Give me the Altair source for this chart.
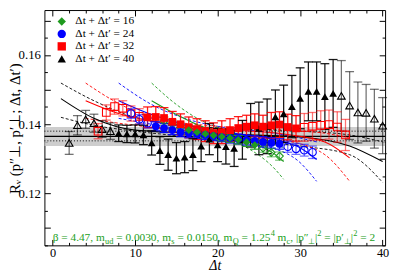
import altair as alt
import pandas as pd

SERIF = "Liberation Serif"
SERIES = ["16", "24", "32", "40"]
COLORS = ["#1f9a1f", "#0000ff", "#ff0000", "#000000"]
SHAPES = ["diamond", "circle", "square", "triangle-up"]
GREEN_TXT = "#22a022"

X_DOMAIN = [-1.0, 40.3]
Y_DOMAIN = [0.105, 0.173]

# ---------------- data points ----------------
# dt + dt' = 40
blk_x = [2, 3, 4, 5, 6, 7, 8, 9, 10, 11, 12, 13, 14, 15, 16, 17, 18, 19, 20, 21,
         22, 23, 24, 25, 26, 27, 28, 29, 30, 31, 32, 33, 34, 35, 36, 37, 38, 39, 40]
blk_y = [0.1346, 0.1397, 0.1414, 0.1403, 0.1386, 0.1380,
         0.1374, 0.1372, 0.1372, 0.1369, 0.1346, 0.1324, 0.1312, 0.1302, 0.1305, 0.1312,
         0.1337, 0.1357, 0.1340, 0.1335, 0.1330, 0.1355, 0.1397, 0.1388, 0.1394, 0.1421,
         0.1430, 0.1451, 0.1475, 0.1495, 0.1495, 0.1480, 0.1489,
         0.1482, 0.1454, 0.1434, 0.1433, 0.1416, 0.1396]
blk_e = [0.0033, 0.0028, 0.0026, 0.0026, 0.0024, 0.0024,
         0.0024, 0.0025, 0.0026, 0.0028, 0.0035, 0.0040, 0.0045, 0.0045, 0.0045, 0.0046,
         0.0045, 0.0045, 0.0048, 0.0050, 0.0052, 0.0056, 0.0063, 0.0076, 0.0079, 0.0078,
         0.0083, 0.0090, 0.0088, 0.0085, 0.0085, 0.0095, 0.0098,
         0.0102, 0.0098, 0.0088, 0.0082, 0.0085, 0.0081]
blk_open = [1] * 6 + [0] * 27 + [1] * 6

# dt + dt' = 32
red_x = [5.5, 6.5, 7.5, 8.5, 9.5, 10.5, 11.5, 12.5, 13.5, 14.5, 15.5, 16.5, 17.5,
         18.5, 19.5, 20.5, 21.5, 22.5, 23.5, 24.5, 25.5, 26.5, 27.5, 28.5, 29.5,
         30.5, 31.5, 32.5, 33.5, 34.5, 35.5]
red_y = [0.1380, 0.1434, 0.1451, 0.1446, 0.1431, 0.1423,
         0.1420, 0.1421, 0.1418, 0.1407, 0.1400, 0.1391, 0.1386, 0.1380, 0.1374,
         0.1377, 0.1383, 0.1389, 0.1393, 0.1397, 0.1393, 0.1397, 0.1399, 0.1392, 0.1388,
         0.1391, 0.1394, 0.1397, 0.1399, 0.1392, 0.1369]
red_e = [0.0022, 0.0022, 0.0022, 0.0022, 0.0022, 0.0022,
         0.0030, 0.0030, 0.0030, 0.0030, 0.0030, 0.0030, 0.0030, 0.0030, 0.0030,
         0.0033, 0.0033, 0.0033, 0.0033, 0.0033, 0.0033, 0.0037, 0.0037, 0.0037, 0.0037,
         0.0040, 0.0040, 0.0042, 0.0042, 0.0044, 0.0045]
red_open = [1] * 6 + [0] * 19 + [1] * 6

# dt + dt' = 24
blu_x = [9.5, 10.5, 11.5, 12.5, 13.5, 14.5, 15.5, 16.5, 17.5, 18.5, 19.5, 20.5,
         21.5, 22.5, 23.5, 24.5, 25.5, 26.5, 27.5, 28.5, 29.5, 30.5, 31.5]
blu_y = [0.1431, 0.1414, 0.1403,
         0.1394, 0.1389, 0.1383, 0.1377, 0.1374, 0.1372, 0.1369, 0.1366, 0.1363,
         0.1360, 0.1357, 0.1354, 0.1352, 0.1349, 0.1346, 0.1343,
         0.1335, 0.1329, 0.1325, 0.1319]
blu_e = [0.0014, 0.0014, 0.0014,
         0.0013, 0.0013, 0.0013, 0.0013, 0.0013, 0.0013, 0.0013, 0.0013, 0.0013,
         0.0014, 0.0014, 0.0014, 0.0014, 0.0015, 0.0015, 0.0015,
         0.0016, 0.0016, 0.0017, 0.0018]
blu_open = [1] * 3 + [0] * 16 + [1] * 4

# dt + dt' = 16
grn_x = [13.5, 14.5, 15.5, 16.5, 17.5, 18.5, 19.5, 20.5, 21.5, 22.5, 23.5, 24.5,
         25.5, 26.5, 27.5]
grn_y = [0.1409, 0.1400, 0.1391,
         0.1383, 0.1377, 0.1372, 0.1368, 0.1364, 0.1360, 0.1355, 0.1348, 0.1340,
         0.1331, 0.1318, 0.1308]
grn_e = [0.0012] * 15
grn_open = [1] * 3 + [0] * 9 + [1] * 3

# ---------------- fit curves (read at a few x) ----------------
blk_cx = [1, 5, 10, 20, 30, 36, 40]
blk_up = [0.1519, 0.1468, 0.1420, 0.1389, 0.1380, 0.1369, 0.1349]
blk_mid = [0.1474, 0.1417, 0.1383, 0.1372, 0.1363, 0.1337, 0.1292]
blk_lo = [0.1420, 0.1397, 0.1380, 0.1357, 0.1337, 0.1312, 0.1232]

red_cx = [4, 8, 12, 20, 28, 33, 36]
red_up = [0.1519, 0.1460, 0.1420, 0.1394, 0.1383, 0.1374, 0.1360]
red_mid = [0.1468, 0.1431, 0.1409, 0.1386, 0.1372, 0.1349, 0.1303]
red_lo = [0.1417, 0.1403, 0.1391, 0.1374, 0.1354, 0.1312, 0.1235]

blu_cx = [8, 12, 16, 20, 26, 30, 32]
blu_up = [0.1519, 0.1457, 0.1417, 0.1394, 0.1377, 0.1360, 0.1349]
blu_mid = [0.1468, 0.1428, 0.1400, 0.1380, 0.1360, 0.1332, 0.1298]
blu_lo = [0.1417, 0.1400, 0.1383, 0.1366, 0.1337, 0.1289, 0.1235]

grn_cx = [12, 15, 18, 21, 24, 27, 28]
grn_up = [0.1519, 0.1457, 0.1411, 0.1383, 0.1360, 0.1340, 0.1332]
grn_mid = [0.1468, 0.1428, 0.1394, 0.1372, 0.1349, 0.1312, 0.1292]
grn_lo = [0.1417, 0.1400, 0.1380, 0.1357, 0.1326, 0.1269, 0.1241]

# plateau band
band_lo, band_hi = 0.1337, 0.1392
band_mid = 0.1365
band_dots = [0.1380, 0.1352]

X_MAJOR = [0, 10, 20, 30, 40]
X_MINOR = [2, 4, 6, 8, 12, 14, 16, 18, 22, 24, 26, 28, 32, 34, 36, 38]
Y_LABELS = [0.12, 0.14, 0.16]
Y_MAJOR = [0.11, 0.12, 0.13, 0.14, 0.15, 0.16, 0.17]
Y_MINOR = [0.105, 0.115, 0.125, 0.135, 0.145, 0.155, 0.165]

# legend layout (in data units of the plot)
leg_series = ["16", "24", "32", "40"]
leg_y = [0.1697, 0.1661, 0.1625, 0.1589]
leg_sym_x = 1.1
leg_txt_x = 2.75

# annotation pieces: (x, text, kind)
NOTE_Y = 0.1062
note_x = [0.0, 6.34, 7.70, 14.39, 15.13, 21.82, 22.89, 26.44, 27.25, 28.35, 28.80,
          31.01, 31.79, 32.08, 32.92, 35.37, 36.14, 36.44, 37.28]
note_t = ["\u03b2 = 4.47, m", "ud", "= 0.0030, m", "s", "= 0.0150, m", "Q",
          "= 1.25", "4", "m", "c", ", |p\u2033", "\u22a5", "|", "2", "= |p\u2032",
          "\u22a5", "|", "2", "= 2"]
note_k = ["main", "sub", "main", "sub", "main", "sub", "main", "sup", "main", "sub",
          "main", "sub", "main", "sup", "main", "sub", "main", "sup", "main"]

# ---------------- tables ----------------
rows = []
for s, xs, ys, es, os_ in [("40", blk_x, blk_y, blk_e, blk_open),
                           ("32", red_x, red_y, red_e, red_open),
                           ("24", blu_x, blu_y, blu_e, blu_open),
                           ("16", grn_x, grn_y, grn_e, grn_open)]:
    for x, y, e, o in zip(xs, ys, es, os_):
        rows.append({"series": s, "x": x, "y": y, "lo": y - e, "hi": y + e, "open": o})
pts = pd.DataFrame(rows)

crow = []
for s, cx, up, mid, lo in [("40", blk_cx, blk_up, blk_mid, blk_lo),
                           ("32", red_cx, red_up, red_mid, red_lo),
                           ("24", blu_cx, blu_up, blu_mid, blu_lo),
                           ("16", grn_cx, grn_up, grn_mid, grn_lo)]:
    for kind, arr in [("fit", mid), ("up", up), ("lo", lo)]:
        for x, y in zip(cx, arr):
            crow.append({"series": s, "kind": kind, "key": s + kind, "x": x, "y": y})
curves = pd.DataFrame(crow)

notes = pd.DataFrame({"x": note_x, "t": note_t, "kind": note_k, "y": NOTE_Y})

legend_df = pd.DataFrame({
    "series": leg_series, "y": leg_y,
    "xs": leg_sym_x, "xt": leg_txt_x,
    "label": ["\u0394t + \u0394t\u2032 = " + s for s in leg_series],
})

XS = alt.Scale(domain=X_DOMAIN, nice=False, zero=False)
YS = alt.Scale(domain=Y_DOMAIN, nice=False, zero=False)
CS = alt.Scale(domain=SERIES, range=COLORS)
SS = alt.Scale(domain=SERIES, range=SHAPES)


def X(field="x"):
    return alt.X(f"{field}:Q", scale=XS, axis=None)


def Y(field="y"):
    return alt.Y(f"{field}:Q", scale=YS, axis=None)


def C():
    return alt.Color("series:N", scale=CS, legend=None)


def S():
    return alt.Shape("series:N", scale=SS, legend=None)


band = alt.Chart(pd.DataFrame({"x": [X_DOMAIN[0]], "x2": [X_DOMAIN[1]],
                               "y": [band_lo], "y2": [band_hi]})).mark_rect(
    color="#c4c4c4", opacity=0.85).encode(x=X("x"), x2="x2", y=Y("y"), y2="y2")

hmid = alt.Chart(pd.DataFrame({"y": [band_mid]})).mark_rule(
    color="black", strokeWidth=1.3).encode(y=Y("y"))
hdots = alt.Chart(pd.DataFrame({"y": band_dots})).mark_rule(
    color="black", strokeWidth=1, strokeDash=[1, 2]).encode(y=Y("y"))

curve_fit = alt.Chart(curves).transform_filter("datum.kind == 'fit'").mark_line(
    interpolate="monotone", clip=True, strokeWidth=1.1).encode(
    x=X(), y=Y(), color=C(), detail="key:N")
curve_dash = alt.Chart(curves).transform_filter("datum.kind != 'fit'").mark_line(
    interpolate="monotone", clip=True, strokeWidth=0.9, strokeDash=[3, 2]).encode(
    x=X(), y=Y(), color=C(), detail="key:N")

OP = alt.Opacity("open:N", scale=alt.Scale(domain=[0, 1], range=[0.9, 0.55]), legend=None)
err_rule = alt.Chart(pts).mark_rule(strokeWidth=1.3).encode(
    x=X(), y=Y("lo"), y2="hi", color=C(), opacity=OP)
err_lo = alt.Chart(pts).mark_tick(orient="horizontal", size=9, thickness=1.3).encode(
    x=X(), y=Y("lo"), color=C(), opacity=OP)
err_hi = alt.Chart(pts).mark_tick(orient="horizontal", size=9, thickness=1.3).encode(
    x=X(), y=Y("hi"), color=C(), opacity=OP)

open_pts = alt.Chart(pts).transform_filter("datum.open == 1").mark_point(
    filled=False, strokeWidth=1.1, opacity=1, size=60).encode(
    x=X(), y=Y(), color=C(), shape=S())

filled_pts = alt.Chart(pts).transform_filter("datum.open == 0").mark_point(
    filled=True, opacity=1, size=62).encode(
    x=X(), y=Y(), color=C(), shape=S())

leg_sym = alt.Chart(legend_df).mark_point(filled=True, opacity=1, size=72).encode(
    x=X("xs"), y=Y(), color=C(), shape=S())
leg_txt = alt.Chart(legend_df).mark_text(
    align="left", baseline="middle", font=SERIF, fontSize=11.5, color="black").encode(
    x=X("xt"), y=Y(), text="label:N")

note_main = alt.Chart(notes).transform_filter("datum.kind == 'main'").mark_text(
    align="left", baseline="alphabetic", font=SERIF, fontSize=11.5,
    color=GREEN_TXT).encode(x=X(), y=Y(), text="t:N")
note_sub = alt.Chart(notes).transform_filter("datum.kind == 'sub'").mark_text(
    align="left", baseline="alphabetic", font=SERIF, fontSize=8.5, dy=3,
    color=GREEN_TXT).encode(x=X(), y=Y(), text="t:N")
note_sup = alt.Chart(notes).transform_filter("datum.kind == 'sup'").mark_text(
    align="left", baseline="alphabetic", font=SERIF, fontSize=8.5, dy=-5,
    color=GREEN_TXT).encode(x=X(), y=Y(), text="t:N")

dummy = pd.DataFrame({"x": [20.0], "y": [0.14]})
common = dict(grid=False, domain=False, labelFlush=False, labelOverlap=False)


def axis_layer(xaxis=None, yaxis=None):
    return alt.Chart(dummy).mark_point(opacity=0).encode(
        x=alt.X("x:Q", scale=XS, axis=xaxis),
        y=alt.Y("y:Q", scale=YS, axis=yaxis),
    )


def tick_axis(orient, values, size):
    return alt.Axis(orient=orient, values=values, tickSize=size, offset=-size,
                    labels=False, title="", tickColor="black", tickWidth=1, **common)


x_lab = alt.Axis(orient="bottom", values=X_MAJOR, ticks=False, labelFont=SERIF,
                 labelFontSize=12.5, labelColor="black", labelPadding=1,
                 title="\u0394t", titleFont=SERIF, titleFontSize=14,
                 titleFontStyle="italic", titleFontWeight="normal",
                 titleY=25, titleBaseline="alphabetic", titleColor="black", **common)
y_lab = alt.Axis(orient="left", values=Y_LABELS, ticks=False, labelFont=SERIF,
                 labelFontSize=13, labelColor="black", labelPadding=4, format=".2f",
                 title="R\u1d65 (p\u2033\u22a5, p\u2032\u22a5; \u0394t, \u0394t\u2032)",
                 titleFont=SERIF, titleFontSize=15, titleFontWeight="normal",
                 titleX=-22, titleY=120, titleAngle=270, titleAlign="center",
                 titleBaseline="bottom", titleColor="black", **common)

axes = [
    axis_layer(xaxis=x_lab),
    axis_layer(xaxis=tick_axis("bottom", X_MAJOR, 6)),
    axis_layer(xaxis=tick_axis("bottom", X_MINOR, 3)),
    axis_layer(xaxis=tick_axis("top", X_MAJOR, 6)),
    axis_layer(xaxis=tick_axis("top", X_MINOR, 3)),
    axis_layer(yaxis=y_lab),
    axis_layer(yaxis=tick_axis("left", Y_MAJOR, 6)),
    axis_layer(yaxis=tick_axis("left", Y_MINOR, 3)),
    axis_layer(yaxis=tick_axis("right", Y_MAJOR, 6)),
    axis_layer(yaxis=tick_axis("right", Y_MINOR, 3)),
]

chart = alt.layer(
    band, hdots, hmid, curve_dash, curve_fit, err_rule, err_lo, err_hi, open_pts,
    filled_pts, leg_sym, leg_txt, note_main, note_sub, note_sup, *axes
).resolve_axis(x="independent", y="independent").properties(
    width=346, height=239,
    autosize=alt.AutoSizeParams(type="none"),
    padding={"left": 37, "top": 0, "right": 6, "bottom": 26},
).configure_view(stroke="black", strokeWidth=1)

chart.save("out.html", embed_options={"renderer": "svg", "actions": False})
